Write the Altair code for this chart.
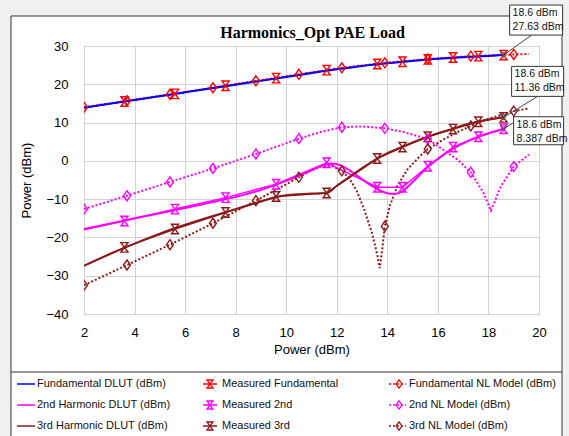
import altair as alt
import pandas as pd

W, H = 455, 268
PL, PT = 84, 46

# ---------------- data ----------------
# DLUT (solid lines, no markers)
fund_x = [2, 4, 6, 8, 10, 12, 13, 14, 15, 16, 17, 18, 18.6]
fund_y = [13.9, 15.9, 17.9, 19.9, 21.9, 23.9, 24.8, 25.5, 26.1, 26.65, 27.05, 27.4, 27.63]

d2_x = [2, 3, 4, 5, 6, 7, 8, 9, 9.6, 10, 10.5, 11, 11.5, 11.8, 12.2, 12.6, 13, 13.4,
        13.8, 14.1, 14.4, 14.8, 15.2, 15.6, 16, 16.6, 17, 17.6, 18.1, 18.6]
d2_y = [-17.8, -16.4, -15.0, -13.7, -12.3, -10.9, -9.4, -7.6, -6.2, -5.2, -3.9, -2.4, -1.1,
        -0.7, -1.3, -2.9, -4.8, -6.6, -8.0, -8.6, -8.5, -6.8, -4.2, -1.6, 0.5, 3.2, 4.6,
        6.3, 7.4, 8.387]

d3_x = [2, 3, 4, 5, 6, 7, 8, 9, 9.6, 10, 10.5, 11, 11.6, 12, 12.5, 13, 13.6, 14, 14.6,
        15, 15.6, 16, 16.6, 17, 17.6, 18, 18.6]
d3_y = [-27.4, -24.4, -21.6, -19.0, -16.7, -14.6, -12.6, -10.6, -9.5, -9.0, -8.7, -8.55,
        -8.4, -6.5, -4.2, -1.9, 0.6, 2.0, 3.7, 4.8, 6.3, 7.2, 8.4, 9.3, 10.3, 10.8, 11.36]

# Measured (solid lines with hourglass markers)
meas_x = [1.6, 3.6, 5.6, 7.6, 9.6, 11.6, 13.6, 14.6, 15.6, 16.6, 17.6, 18.6]
meas_fund = [13.5, 15.5, 17.5, 19.6, 21.6, 23.7, 25.3, 25.9, 26.5, 27.0, 27.35, 27.63]
meas_2nd = [-18.6, -15.7, -12.6, -9.6, -6.1, -0.5, -6.9, -6.9, -1.4, 3.6, 6.3, 8.387]
meas_3rd = [-28.6, -22.6, -17.8, -13.5, -9.3, -8.4, 0.6, 3.6, 6.3, 8.3, 10.2, 11.36]

# NL model (dotted lines with diamond markers)
nl1_x = [2, 3.7, 5.4, 7.1, 8.8, 10.5, 12.2, 13.9, 15.6, 17.3, 19.0, 19.6]
nl1_y = [14.0, 15.7, 17.4, 19.1, 20.9, 22.6, 24.3, 25.6, 26.6, 27.35, 27.8, 27.9]

nl2_x = [2, 3.7, 5.4, 7.1, 8.8, 10.5, 11.4, 12.2, 13.0, 13.9, 14.6, 15.6, 16.1, 16.8,
         17.3, 17.8, 18.1, 18.5, 19.0, 19.6]
nl2_y = [-12.6, -9.1, -5.5, -2.0, 1.8, 5.8, 7.6, 8.8, 9.0, 8.5, 7.6, 5.7, 3.4, 0.2,
         -3.0, -8.3, -13.0, -6.5, -1.5, 1.7]

nl3_x = [2, 3.7, 5.4, 7.1, 8.8, 9.7, 10.5, 11.0, 11.4, 11.8, 12.2, 12.5, 12.8, 13.1,
         13.4, 13.6, 13.7, 13.8, 13.9, 14.1, 14.4, 14.8, 15.3, 15.6, 16.2, 16.8, 17.3,
         18.0, 18.6, 19.0, 19.6]
nl3_y = [-32.5, -27.2, -21.9, -16.3, -10.4, -7.2, -4.3, -2.5, -1.4, -1.3, -2.6, -4.6,
         -8.0, -13.0, -19.0, -24.5, -28.0, -23.0, -17.1, -11.7, -6.5, -2.2, 1.3, 3.1,
         5.5, 7.6, 9.1, 11.0, 12.2, 13.0, 13.7]

nl_mark_x = [2, 3.7, 5.4, 7.1, 8.8, 10.5, 12.2, 13.9, 15.6, 17.3, 19.0]
nl1_mark_y = [14.0, 15.7, 17.4, 19.1, 20.9, 22.6, 24.3, 25.6, 26.6, 27.35, 27.8]
nl2_mark_y = [-12.6, -9.1, -5.5, -2.0, 1.8, 5.8, 8.8, 8.5, 5.7, -3.0, -1.5]
nl3_mark_y = [-32.5, -27.2, -21.9, -16.3, -10.4, -4.3, -2.6, -17.1, 3.1, 9.1, 13.0]

x_ticks = [2, 4, 6, 8, 10, 12, 14, 16, 18, 20]
y_ticks = [-40, -30, -20, -10, 0, 10, 20, 30]

series = ["Fundamental DLUT (dBm)", "2nd Harmonic DLUT (dBm)", "3rd Harmonic DLUT (dBm)",
          "Measured Fundamental", "Measured 2nd", "Measured 3rd",
          "Fundamental NL Model (dBm)", "2nd NL Model (dBm)", "3rd NL Model (dBm)"]
colors = ["#0000FF", "#FF00FF", "#8B1A1A",
          "#FF0000", "#FF00FF", "#8B1A1A",
          "#FF0000", "#FF00FF", "#8B1A1A"]

title_text = "Harmonics_Opt PAE Load"
marker_x = 18.6
marker_vals = [27.63, 11.36, 8.387]
marker_txt = ["27.63 dBm", "11.36 dBm", "8.387 dBm"]

# ---------------- tables ----------------
def tab(xs, ys, name):
    return pd.DataFrame({"x": xs, "y": ys, "series": name})

dlut = pd.concat([tab(fund_x, fund_y, series[0]), tab(d2_x, d2_y, series[1]),
                  tab(d3_x, d3_y, series[2])])
meas = pd.concat([tab(meas_x, meas_fund, series[3]), tab(meas_x, meas_2nd, series[4]),
                  tab(meas_x, meas_3rd, series[5])])
nl_line = pd.concat([tab(nl1_x, nl1_y, series[6]), tab(nl2_x, nl2_y, series[7]),
                     tab(nl3_x, nl3_y, series[8])])
nl_pts = pd.concat([tab(nl_mark_x, nl1_mark_y, series[6]), tab(nl_mark_x, nl2_mark_y, series[7]),
                    tab(nl_mark_x, nl3_mark_y, series[8])])

HOUR = "M-0.75,-1L0.75,-1L-0.75,1L0.75,1Z"
DIAM = "M0,-1L0.7,0L0,1L-0.7,0Z"
FONT = "Liberation Sans"

xscale = alt.Scale(domain=[2, 20], nice=False, zero=False)
yscale = alt.Scale(domain=[-40, 30], nice=False, zero=False)
xaxis = alt.Axis(values=x_ticks, title="Power (dBm)", grid=True, ticks=False,
                 domain=False, labelPadding=12, titlePadding=4,
                 labelFont=FONT, labelFontSize=13, labelColor="#000",
                 titleFont=FONT, titleFontSize=13, titleFontWeight="normal",
                 titleColor="#000", gridColor="#d3d3d3", labelFlush=False)
yaxis = alt.Axis(values=y_ticks, title="Power (dBm)", grid=True, ticks=False,
                 domain=False, labelPadding=16, titlePadding=12,
                 labelFont=FONT, labelFontSize=13, labelColor="#000",
                 titleFont=FONT, titleFontSize=13, titleFontWeight="normal",
                 titleColor="#000", gridColor="#d3d3d3", labelFlush=False)
xenc = alt.X("x:Q", scale=xscale, axis=xaxis)
yenc = alt.Y("y:Q", scale=yscale, axis=yaxis)
color = alt.Color("series:N", scale=alt.Scale(domain=series, range=colors), legend=None)

nl_lines = alt.Chart(nl_line).mark_line(strokeWidth=2, strokeDash=[2, 2], clip=True).encode(
    x=xenc, y=yenc, color=color, order="x:Q")
meas_lines = alt.Chart(meas).mark_line(strokeWidth=1.5, clip=True).encode(
    x=xenc, y=yenc, color=color)
dlut_lines = alt.Chart(dlut).mark_line(strokeWidth=2, interpolate="monotone", clip=True).encode(
    x=xenc, y=yenc, color=color)
meas_pts = alt.Chart(meas).mark_point(shape=HOUR, size=90, filled=False, strokeWidth=1.4,
                                      opacity=1, clip=True).encode(x=xenc, y=yenc, color=color)
nl_points = alt.Chart(nl_pts).mark_point(shape=DIAM, size=100, filled=False, strokeWidth=1.4,
                                         opacity=1, clip=True).encode(x=xenc, y=yenc, color=color)

# ---------------- frame decorations ----------------
gray = "#f0f0f0"
bands = [
    alt.Chart().mark_rect(color=gray).encode(x=alt.value(-PL), x2=alt.value(W + 30),
                                             y=alt.value(-PT), y2=alt.value(-30)),
    alt.Chart().mark_rect(color=gray).encode(x=alt.value(-PL), x2=alt.value(-73),
                                             y=alt.value(-PT), y2=alt.value(H + 122)),
    alt.Chart().mark_rect(color=gray).encode(x=alt.value(478), x2=alt.value(W + 30),
                                             y=alt.value(-PT), y2=alt.value(H + 122)),
    alt.Chart().mark_rule(color="#333", strokeWidth=1).encode(
        x=alt.value(-73), x2=alt.value(478), y=alt.value(-30)),
    alt.Chart().mark_rule(color="#333", strokeWidth=1).encode(
        x=alt.value(-73), y=alt.value(-30), y2=alt.value(H + 122)),
    alt.Chart().mark_rule(color="#333", strokeWidth=1).encode(
        x=alt.value(478), y=alt.value(-30), y2=alt.value(H + 122)),
    alt.Chart().mark_rule(color="#333", strokeWidth=1).encode(
        x=alt.value(-73), x2=alt.value(478), y=alt.value(326)),
]
title_mark = alt.Chart().mark_text(
    font="Liberation Serif", fontSize=16, fontWeight="bold", color="#000",
    align="center", baseline="middle").encode(
    x=alt.value(W / 2 + 1), y=alt.value(-13), text=alt.value(title_text))

# ---------------- legend (3 x 3 grid below the frame divider) ----------------
def xd(px):
    return 2 + (px - PL) * 18 / W

def yd(py):
    return 30 - (py - PT) * 70 / H

row_py = [384, 405, 426]
leg_rows = []
for i, name in enumerate(series):
    col, row = i // 3, i % 3
    leg_rows.append({"series": name, "kind": col, "y": yd(row_py[row]),
                     "x": xd([17, 203, 389][col]), "x2": xd([35, 217, 406][col]),
                     "xm": xd([26, 210, 399][col]), "xt": xd([37, 222, 409][col])})
leg = pd.DataFrame(leg_rows)

leg_line_solid = alt.Chart(leg).transform_filter("datum.kind < 2").mark_rule(strokeWidth=1.5).encode(
    x=xenc, x2="x2:Q", y=yenc, color=color)
leg_line_dot = alt.Chart(leg).transform_filter("datum.kind == 2").mark_rule(
    strokeWidth=1.5, strokeDash=[2, 2]).encode(x=xenc, x2="x2:Q", y=yenc, color=color)
leg_hour = alt.Chart(leg).transform_filter("datum.kind == 1").transform_calculate(
    x="datum.xm").mark_point(shape=HOUR, size=64, filled=False, strokeWidth=1.3,
                             opacity=1).encode(x=xenc, y=yenc, color=color)
leg_diam = alt.Chart(leg).transform_filter("datum.kind == 2").transform_calculate(
    x="datum.xm").mark_point(shape=DIAM, size=70, filled=False, strokeWidth=1.3,
                             opacity=1).encode(x=xenc, y=yenc, color=color)
leg_text = alt.Chart(leg).transform_calculate(x="datum.xt").mark_text(
    align="left", baseline="middle", font=FONT, fontSize=11, color="#111").encode(
    x=xenc, y=yenc, text="series:N")

# ---------------- marker annotations at 18.6 dBm ----------------
boxes = [(6, 59, -50, -20, 28, -20), (8, 60, -51, -21, 34, -21), (10, 60, -12, 16, 10, -6)]
ann_layers = []
for val, txt, (a, b, c, d, lx, ly) in zip(marker_vals, marker_txt, boxes):
    df = pd.DataFrame({"x": [marker_x], "y": [val]})
    base = alt.Chart(df)
    ann_layers.append(base.mark_rule(color="#444", strokeWidth=1, x2Offset=lx, y2Offset=ly).encode(
        x=xenc, y=yenc, x2="x:Q", y2="y:Q"))
    ann_layers.append(base.mark_rect(fill="white", stroke="#333", strokeWidth=1,
                                     xOffset=a, x2Offset=b, yOffset=c, y2Offset=d).encode(
        x=xenc, y=yenc, x2="x:Q", y2="y:Q"))
    ann_layers.append(base.mark_text(align="left", baseline="middle", font=FONT, fontSize=10.5,
                                     color="#111", dx=a + 3, dy=c + 8).encode(
        x=xenc, y=yenc, text=alt.value("18.6 dBm")))
    ann_layers.append(base.mark_text(align="left", baseline="middle", font=FONT, fontSize=10.5,
                                     color="#111", dx=a + 3, dy=c + 22).encode(
        x=xenc, y=yenc, text=alt.value(txt)))
    ann_layers.append(base.mark_point(shape="triangle-down", size=40, filled=False,
                                      color="#555", strokeWidth=1, opacity=1).encode(x=xenc, y=yenc))

chart = alt.layer(
    *bands, title_mark, nl_lines, meas_lines, dlut_lines, meas_pts, nl_points,
    leg_line_solid, leg_line_dot, leg_hour, leg_diam, leg_text, *ann_layers
).properties(
    width=W, height=H,
    autosize=alt.AutoSizeParams(type="none"),
    padding={"left": PL, "top": PT, "right": 569 - PL - W, "bottom": 436 - PT - H},
    background="white",
).configure_view(stroke="#555", strokeWidth=1)

chart.save("out.html", embed_options={"renderer": "svg", "actions": False})
